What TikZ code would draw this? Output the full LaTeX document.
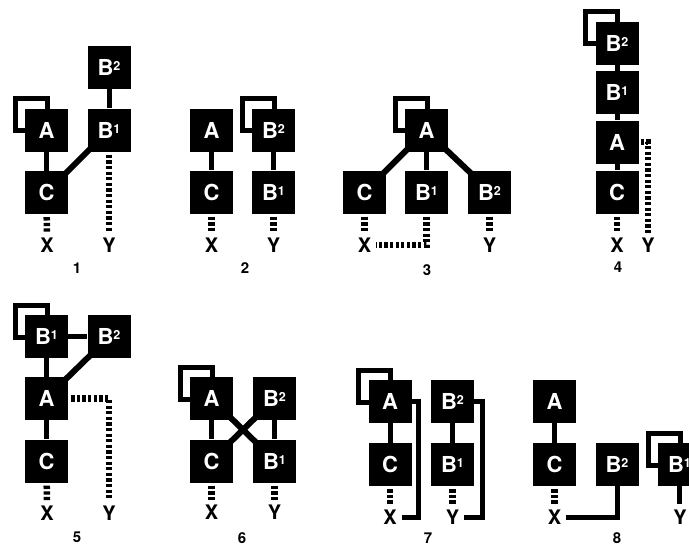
\documentclass[tikz,border=0pt]{standalone}
\usepackage{fontspec}
\setmainfont{TeX Gyre Heros}
\usetikzlibrary{backgrounds}

\newcommand{\bsup}[1]{\raisebox{4.7pt}{\fontsize{12.5}{12.5}\selectfont #1}}
\newcommand{\selfloop}[1]{\draw[loopsq] ([shift={(-9.5,-9.5)}]#1.north west) rectangle ([shift={(22.5,22.5)}]#1.north west);}

\tikzset{
  blk/.style={fill=black, minimum size=43pt, inner sep=0pt, text=white,
    font=\bfseries\fontsize{22}{22}\selectfont},
  lbl/.style={inner sep=0pt, font=\bfseries\fontsize{20}{20}\selectfont},
  num/.style={inner sep=0pt, font=\bfseries\fontsize{15}{15}\selectfont},
  lnk/.style={line width=5pt},
  diag/.style={line width=6pt, shorten <=-4pt, shorten >=-4pt},
  dsh/.style={line width=6.5pt, dash pattern=on 3.3pt off 2.3pt, shorten <=3pt, shorten >=5pt},
  loopsq/.style={line width=5pt}
}

\begin{document}
\begin{tikzpicture}[x=1pt, y=-1pt]
    \useasboundingbox (0,0) rectangle (689,547);

    % Panel 1
    \node[blk] (a1) at (46.5,130) {A};
    \node[blk] (c1) at (46.5,192.5) {C};
    \node[blk] (bI1) at (109,130) {B\bsup{1}};
    \node[blk] (bII1) at (109,67.5) {B\bsup{2}};
    \node[lbl] (x1) at (47,245) {X};
    \node[lbl] (y1) at (109,245) {Y};
    \node[num] (n1) at (77,268) {1};
    \draw[lnk] (a1) -- (c1);
    \draw[lnk] (bI1) -- (bII1);
    \draw[diag] (c1.north east) -- (bI1.south west);
    \draw[dsh] (c1) -- (x1);
    \draw[dsh] (bI1) -- (y1);

    % Panel 2
    \node[blk] (a2) at (211.5,130) {A};
    \node[blk] (c2) at (211.5,192) {C};
    \node[blk] (bII2) at (273.5,130) {B\bsup{2}};
    \node[blk] (bI2) at (273.5,192) {B\bsup{1}};
    \node[lbl] (x2) at (211.5,245) {X};
    \node[lbl] (y2) at (273.5,245) {Y};
    \node[num] (n2) at (245,268) {2};
    \draw[lnk] (a2) -- (c2);
    \draw[lnk] (bII2) -- (bI2);
    \draw[dsh] (c2) -- (x2);
    \draw[dsh] (bI2) -- (y2);

    % Panel 3
    \node[blk] (a3) at (426.5,130) {A};
    \node[blk] (c3) at (364.5,192) {C};
    \node[blk] (bI3) at (426.5,192) {B\bsup{1}};
    \node[blk] (bII3) at (489.5,192) {B\bsup{2}};
    \node[lbl] (x3) at (364.5,245) {X};
    \node[lbl] (y3) at (489.5,245) {Y};
    \node[num] (n3) at (427,270) {3};
    \draw[diag] (a3.south west) -- (c3.north east);
    \draw[lnk] (a3) -- (bI3);
    \draw[diag] (a3.south east) -- (bII3.north west);
    \draw[dsh] (c3) -- (x3);
    \draw[dsh] (bII3) -- (y3);
    \draw[dsh] (bI3.south) |- (x3.east);

    % Panel 4
    \node[blk] (bII4) at (617,43) {B\bsup{2}};
    \node[blk] (bI4) at (617,92.5) {B\bsup{1}};
    \node[blk] (a4) at (617,142) {A};
    \node[blk] (c4) at (617,192) {C};
    \node[lbl] (x4) at (617,245) {X};
    \node[lbl] (y4) at (648,245) {Y};
    \node[num] (n4) at (618,267) {4};
    \draw[lnk] (bII4) -- (bI4);
    \draw[lnk] (bI4) -- (a4);
    \draw[lnk] (a4) -- (c4);
    \draw[dsh] (c4) -- (x4);
    \draw[dsh, shorten <=2pt] (a4.east) -| (y4.north);

    % Panel 5
    \node[blk] (bI5) at (46.5,336.5) {B\bsup{1}};
    \node[blk] (bII5) at (109,336.5) {B\bsup{2}};
    \node[blk] (a5) at (46.5,398.5) {A};
    \node[blk] (c5) at (46.5,461) {C};
    \node[lbl] (x5) at (47,513) {X};
    \node[lbl] (y5) at (109,513) {Y};
    \node[num] (n5) at (77,537) {5};
    \draw[lnk] (bI5) -- (bII5);
    \draw[lnk] (bI5) -- (a5);
    \draw[diag] (a5.north east) -- (bII5.south west);
    \draw[lnk] (a5) -- (c5);
    \draw[dsh] (c5) -- (x5);
    \draw[dsh] (a5.east) -| (y5.north);

    % Panel 6
    \node[blk] (a6) at (211.5,398.5) {A};
    \node[blk] (bII6) at (274.5,398.5) {B\bsup{2}};
    \node[blk] (c6) at (211.5,461) {C};
    \node[blk] (bI6) at (274.5,461) {B\bsup{1}};
    \node[lbl] (x6) at (211.5,512) {X};
    \node[lbl] (y6) at (274.5,512) {Y};
    \node[num] (n6) at (242,538.5) {6};
    \draw[lnk] (a6) -- (c6);
    \draw[lnk] (bII6) -- (bI6);
    \draw[diag] (a6.south east) -- (bI6.north west);
    \draw[diag] (bII6.south west) -- (c6.north east);
    \draw[dsh] (c6) -- (x6);
    \draw[dsh] (bI6) -- (y6);

    % Panel 7
    \node[blk] (a7) at (390,401.5) {A};
    \node[blk] (c7) at (390,464.5) {C};
    \node[blk] (bII7) at (452.5,401.5) {B\bsup{2}};
    \node[blk] (bI7) at (452.5,464.5) {B\bsup{1}};
    \node[lbl] (x7) at (390,517) {X};
    \node[lbl] (y7) at (452.5,517) {Y};
    \node[num] (n7) at (428,538) {7};
    \draw[lnk] (a7) -- (c7);
    \draw[lnk] (bII7) -- (bI7);
    \draw[dsh] (c7) -- (x7);
    \draw[dsh] (bI7) -- (y7);
    \draw[lnk, shorten >=5pt] (a7.east) -- ++(7,0) |- (x7.east);
    \draw[lnk, shorten >=5pt] (bII7.east) -- ++(8,0) |- (y7.east);

    % Panel 8
    \node[blk] (a8) at (554.5,401.5) {A};
    \node[blk] (c8) at (554.5,464.5) {C};
    \node[blk] (bII8) at (617,464.5) {B\bsup{2}};
    \node[blk] (bI8) at (679.5,464.5) {B\bsup{1}};
    \node[lbl] (x8) at (554.5,517.5) {X};
    \node[lbl] (y8) at (680,517.5) {Y};
    \node[num] (n8) at (617,538.5) {8};
    \draw[lnk] (a8) -- (c8);
    \draw[dsh] (c8) -- (x8);
    \draw[lnk, shorten >=5pt] (bII8.south) |- (x8.east);
    \draw[lnk, shorten >=6pt] (bI8.south) -- (bI8.south |- y8.north);

    % Self loops behind the boxes
    \begin{pgfonlayer}{background}
        \selfloop{a1}
        \selfloop{bII2}
        \selfloop{a3}
        \selfloop{bII4}
        \selfloop{bI5}
        \selfloop{a6}
        \selfloop{a7}
        \selfloop{bI8}
    \end{pgfonlayer}
\end{tikzpicture}
\end{document}
